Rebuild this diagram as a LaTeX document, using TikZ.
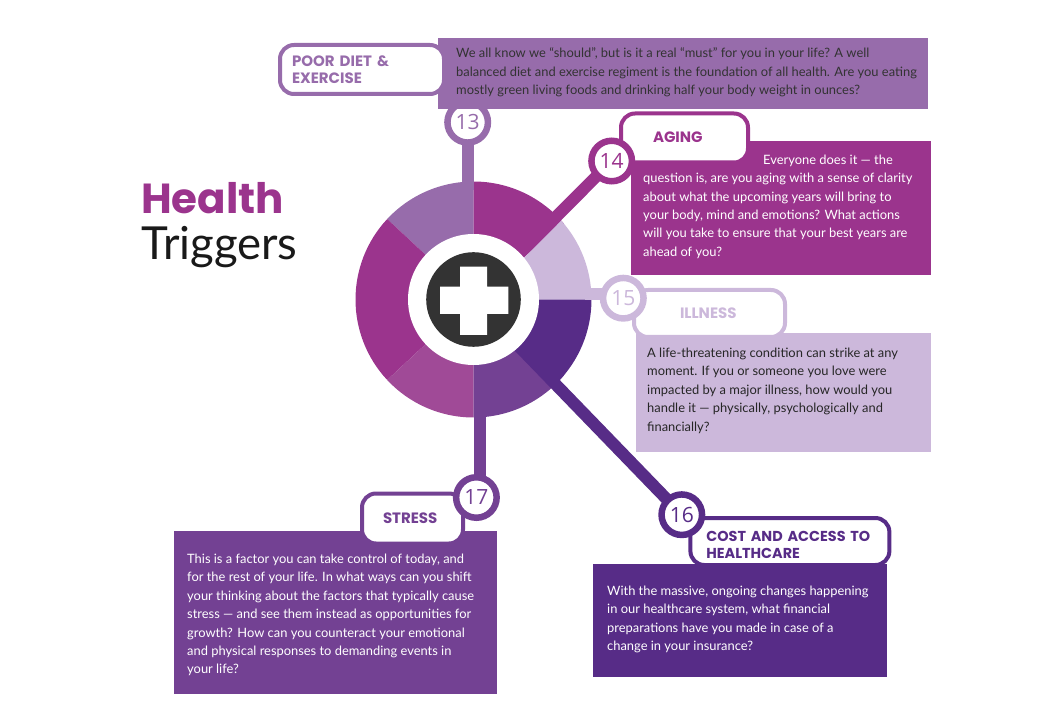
\documentclass[tikz,border=0pt]{standalone}
\usepackage{fontspec}
\setmainfont{Lato}
\newfontfamily\headfont{Poppins}
\newfontfamily\numfont{Open Sans}
\usetikzlibrary{calc}
\definecolor{cpoor}{HTML}{976CAB}
\definecolor{cage}{HTML}{9B348D}
\definecolor{cill}{HTML}{CCB8DB}
\definecolor{ccost}{HTML}{572C87}
\definecolor{cstress}{HTML}{734193}
\definecolor{clow}{HTML}{A04A97}
\definecolor{cdark}{HTML}{333333}
\tikzset{
  textbox/.style={anchor=north west,inner sep=0pt,align=left,text=white,font=\fontsize{12.9}{18.45}\selectfont},
  tagbox/.style={anchor=north west,draw=#1,text=#1,fill=white,rounded corners=14pt,line width=4pt,outer sep=0pt,inner ysep=0pt,align=left,font=\headfont\bfseries\fontsize{15}{17}\selectfont},
  numdot/.style={circle,draw=#1,text=#1,fill=white,line width=6.5pt,minimum size=40.5pt,inner sep=0pt,outer sep=0pt,font=\numfont\fontsize{21}{21}\selectfont},
  spoke/.style={draw=#1,line width=12pt}
}
\begin{document}
\begin{tikzpicture}[x=1pt,y=1pt]
\useasboundingbox (0,0) rectangle (1053,-719);
\coordinate (wheel) at (473.5,-299.5);
%wheel
\fill[cpoor] (wheel) -- ++(90:118pt) arc[start angle=90,end angle=137,radius=118pt] -- cycle;
\fill[cage] (wheel) -- ++(137:118pt) arc[start angle=137,end angle=223,radius=118pt] -- cycle;
\fill[clow] (wheel) -- ++(223:118pt) arc[start angle=223,end angle=270,radius=118pt] -- cycle;
\fill[cstress] (wheel) -- ++(270:118pt) arc[start angle=270,end angle=320,radius=118pt] -- cycle;
\fill[ccost] (wheel) -- ++(315:118pt) arc[start angle=315,end angle=360,radius=118pt] -- cycle;
\fill[cage] (wheel) -- ++(0,118) arc[start angle=90,end angle=40,radius=118pt] -- cycle;
\fill[cill] (482.5,-299.5) -- ($(wheel)+(42:118pt)$) arc[start angle=42,end angle=0,radius=118pt] -- cycle;

%title
\node[anchor=base west,inner sep=0pt,text=cage,font=\headfont\bfseries\fontsize{42}{42}\selectfont] (title1) at (141,-214) {Health};
\node[anchor=base west,inner sep=0pt,text=black!90,font=\fontsize{45.5}{46}\selectfont] (title2) at (141,-260) {Triggers};

\node[numdot=cpoor] (num13) at (467.7,-122.3) {13};

%boxes
\fill[cpoor] (438,-38) rectangle (928,-109.5);
\fill[cage] (631,-141) rectangle (931,-275);
\fill[cill] (636,-333) rectangle (931,-452);
\fill[ccost] (593,-564) rectangle (887,-677);
\fill[cstress] (174,-531) rectangle (497,-694);

\node[textbox,text=cdark] (text13) at (456,-47.5) {We all know we “should”, but is it a real “must” for you in your life? A well\\balanced diet and exercise regiment is the foundation of all health. Are you eating\\mostly green living foods and drinking half your body weight in ounces?};
\node[textbox] (text14) at (643,-154.5) {\hspace*{120pt}Everyone does it — the\\question is, are you aging with a sense of clarity\\about what the upcoming years will bring to\\your body, mind and emotions? What actions\\will you take to ensure that your best years are\\ahead of you?};
\node[textbox,text=black!85] (text15) at (647,-347.5) {A life-threatening condition can strike at any\\moment. If you or someone you love were\\impacted by a major illness, how would you\\handle it — physically, psychologically and\\financially?};
\node[textbox] (text16) at (607,-585.5) {With the massive, ongoing changes happening\\in our healthcare system, what financial\\preparations have you made in case of a\\change in your insurance?};
\node[textbox] (text17) at (187,-553.5) {This is a factor you can take control of today, and\\for the rest of your life. In what ways can you shift\\your thinking about the factors that typically cause\\stress — and see them instead as opportunities for\\growth? How can you counteract your emotional\\and physical responses to demanding events in\\your life?};

%labels
\node[tagbox=cpoor,inner xsep=12pt,text width=140pt,minimum height=49pt] (tag13) at (280,-45) {POOR DIET \&\\EXERCISE};
\node[tagbox=cage,inner xsep=32pt,text width=63pt,minimum height=49pt] (tag14) at (621,-113.5) {\raisebox{1.5pt}{AGING}};
\node[tagbox=cill,inner xsep=46pt,text width=59pt,minimum height=47pt] (tag15) at (634,-290) {ILLNESS};
\node[tagbox=ccost,inner xsep=16pt,text width=167pt,minimum height=47pt,font=\headfont\bfseries\fontsize{14.4}{17}\selectfont] (tag16) at (690.4,-518) {\rule{0pt}{18pt}COST AND ACCESS TO\\HEALTHCARE};
\node[tagbox=cstress,inner xsep=21pt,text width=59pt,minimum height=50pt] (tag17) at (362,-493.5) {STRESS};

\node[numdot=cage] (num14) at (611.7,-161) {14};
\node[numdot=cill] (num15) at (623.3,-298.2) {15};
\node[numdot=ccost] (num16) at (681.8,-514.7) {16};
\node[numdot=cstress] (num17) at (476.4,-497.5) {17};

%connectors
\coordinate (foot15) at (585,-293.6);
\coordinate (foot17) at (480,-410);
\draw[spoke=cpoor] (num13.south) -- (num13.south |- 0,-190);
\draw[spoke=cage] (num14) -- (wheel);
\draw[spoke=cill] (foot15) -- (foot15 -| num15.west);
\draw[spoke=ccost] (num16) -- (wheel);
\draw[spoke=cstress] (foot17) -- (foot17 |- num17.north);

%hub
\node[circle,fill=white,minimum size=131pt,inner sep=0pt] (hub) at (wheel) {};
\node[circle,fill=cdark,minimum size=94.6pt,inner sep=0pt] (dark) at (wheel) {};
\fill[white] (460,-266.7) -- (487,-266.7) -- (487,-286.7) -- (508.3,-286.7) -- (508.3,-314) -- (487,-314) -- (487,-335) -- (460,-335) -- (460,-314) -- (440,-314) -- (440,-286.7) -- (460,-286.7) -- cycle;
\end{tikzpicture}
\end{document}
